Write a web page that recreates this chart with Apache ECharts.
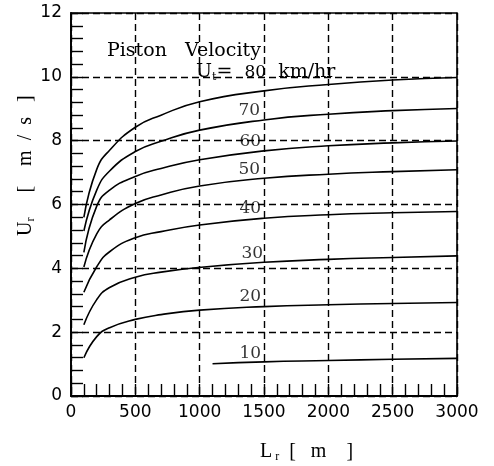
<!DOCTYPE html>
<html>
<head>
<meta charset="utf-8">
<script src="https://cdn.jsdelivr.net/npm/echarts@6/dist/echarts.min.js"></script>
<style>
  html, body { margin: 0; padding: 0; background: #fff; }
  #chart { width: 494px; height: 466px; }
</style>
</head>
<body>
<div id="chart"></div>
<script>
// Piston velocity curves: U_r vs L_r for several U_t

// distances along the run (m)
const lengths = [100, 200, 300, 500, 700, 1000, 1500, 2000, 2500, 3000];
const lengths10 = [1100, 1500, 2000, 2500, 3000];

// U_r (m/s)
const u80 = [5.6, 7.1, 7.7, 8.42, 8.8, 9.22, 9.56, 9.76, 9.9, 9.98];
const u70 = [5.17, 6.45, 7.05, 7.66, 7.98, 8.33, 8.65, 8.83, 8.94, 9.01];
const u60 = [4.5, 5.95, 6.45, 6.88, 7.13, 7.4, 7.68, 7.84, 7.93, 7.99];
const u50 = [4.04, 5.08, 5.52, 6.03, 6.3, 6.58, 6.82, 6.95, 7.03, 7.09];
const u40 = [3.25, 4.05, 4.52, 4.96, 5.15, 5.36, 5.57, 5.68, 5.74, 5.78];
const u30 = [2.23, 3.02, 3.4, 3.72, 3.88, 4.03, 4.19, 4.28, 4.34, 4.39];
const u20 = [1.2, 1.86, 2.14, 2.4, 2.55, 2.69, 2.8, 2.86, 2.9, 2.93];
const u10 = [1.01, 1.07, 1.11, 1.15, 1.18];

// curve labels and where they sit (data units)
const curveNames = ['10', '20', '30', '40', '50', '60', '70'];
const labelL = [1393, 1393, 1409, 1393, 1385, 1393, 1385];
const labelU = [1.32, 3.1, 4.47, 5.87, 7.09, 7.96, 8.93];

const xTicks = [0, 500, 1000, 1500, 2000, 2500, 3000];
const yTicks = [0, 2, 4, 6, 8, 10, 12];

const chart = echarts.init(document.getElementById('chart'));

function curve(name, xs, ys) {
    return {
        name: name,
        type: 'line',
        data: xs.map((x, i) => [x, ys[i]]),
        showSymbol: false,
        smooth: true,
        lineStyle: { color: '#000', width: 1.6 },
        silent: true,
        z: 3
    };
}

const tickFont = { color: '#000', fontFamily: 'DejaVu Sans', fontSize: 17 };
const gridDash = { color: '#000', width: 1.4, type: [7, 4] };
const serif = 'DejaVu Serif';

const option = {
    backgroundColor: '#fff',
    animation: false,
    grid: {
        left: 71, right: 37, top: 13, bottom: 70,
        show: true, borderColor: '#000', borderWidth: 1.6,
        backgroundColor: 'transparent'
    },
    xAxis: {
        type: 'value', min: 0, max: 3000, interval: 500,
        axisLine: { lineStyle: { color: '#000', width: 1.8 } },
        axisTick: { inside: true, length: 12, lineStyle: { color: '#000', width: 1.4 } },
        minorTick: { show: true, splitNumber: 5, length: 12, lineStyle: { color: '#000', width: 1.4 } },
        splitLine: { show: true, lineStyle: gridDash },
        axisLabel: Object.assign({ margin: 8, formatter: v => xTicks.includes(v) ? String(v) : '' }, tickFont)
    },
    yAxis: {
        type: 'value', min: 0, max: 12, interval: 2,
        axisLine: { show: true, lineStyle: { color: '#000', width: 1.8 } },
        axisTick: { show: true, inside: true, length: 12, lineStyle: { color: '#000', width: 1.4 } },
        minorTick: { show: true, splitNumber: 5, length: 12, lineStyle: { color: '#000', width: 1.4 } },
        splitLine: { show: true, lineStyle: gridDash },
        axisLabel: Object.assign({ margin: 9, formatter: v => yTicks.includes(v) ? String(v) : '' }, tickFont)
    },
    series: [
        curve('80', lengths, u80),
        curve('70', lengths, u70),
        curve('60', lengths, u60),
        curve('50', lengths, u50),
        curve('40', lengths, u40),
        curve('30', lengths, u30),
        curve('20', lengths, u20),
        curve('10', lengths10, u10),
        {
            name: 'labels',
            type: 'scatter',
            symbolSize: 0,
            silent: true,
            z: 4,
            data: curveNames.map((n, i) => ({ name: n, value: [labelL[i], labelU[i]] })),
            label: {
                show: true, position: 'inside', formatter: '{b}',
                color: '#000', fontFamily: serif, fontSize: 17
            }
        }
    ],
    graphic: [
        {
            type: 'text', left: 107, top: 42, z: 10,
            style: { text: 'Piston   Velocity', fill: '#000', font: '19px "DejaVu Serif"' }
        },
        {
            type: 'text', left: 196, top: 63, z: 10,
            style: {
                text: '{a|U}{s|t}{a|=  }{n|80}{a|  km/hr}',
                rich: {
                    a: { fill: '#000', fontFamily: serif, fontSize: 19, lineHeight: 20 },
                    n: { fill: '#000', fontFamily: serif, fontSize: 17, lineHeight: 20 },
                    s: { fill: '#000', fontFamily: serif, fontSize: 11, lineHeight: 20, verticalAlign: 'bottom', padding: [8, 0, 0, 0] }
                }
            }
        },
        {
            type: 'text', x: 260, y: 441, z: 10,
            style: {
                text: '{a|L}{s| r}{a|  [   m    ]}',
                rich: {
                    a: { fill: '#000', fontFamily: 'Liberation Serif', fontSize: 20, lineHeight: 22 },
                    s: { fill: '#000', fontFamily: 'Liberation Serif', fontSize: 12, lineHeight: 22, verticalAlign: 'bottom', padding: [10, 0, 0, 0] }
                }
            }
        },
        {
            type: 'text', x: 15, y: 236, rotation: Math.PI / 2, z: 10,
            style: {
                text: '{a|U}{s|r}{a|     [    m  /  s   ]}',
                rich: {
                    a: { fill: '#000', fontFamily: 'Liberation Serif', fontSize: 20, lineHeight: 22 },
                    s: { fill: '#000', fontFamily: 'Liberation Serif', fontSize: 12, lineHeight: 22, verticalAlign: 'bottom', padding: [10, 0, 0, 0] }
                }
            }
        }
    ]
};

chart.setOption(option);
</script>
</body>
</html>
